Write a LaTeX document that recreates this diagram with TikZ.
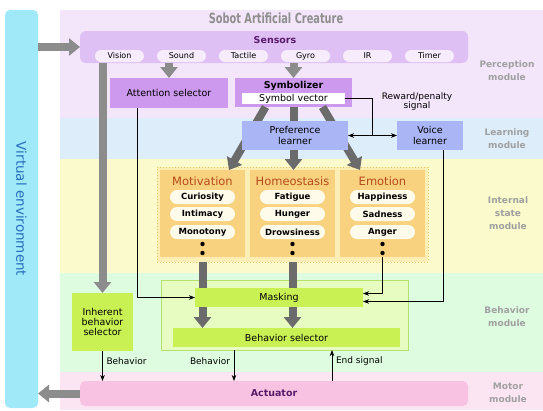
\documentclass[tikz,border=0pt]{standalone}
\usepackage{fontspec}
\setmainfont{DejaVu Sans}
\newfontfamily\narrowfont[FakeStretch=0.7]{DejaVu Sans}
\usetikzlibrary{calc,arrows.meta}
\tikzset {>=Stealth}

\definecolor{envcyan}{RGB}{160,233,249}
\definecolor{envblue}{RGB}{40,110,190}
\definecolor{percband}{RGB}{243,229,250}
\definecolor{learnband}{RGB}{221,237,250}
\definecolor{stateband}{RGB}{250,250,204}
\definecolor{behband}{RGB}{221,252,224}
\definecolor{motorband}{RGB}{252,229,242}
\definecolor{sensorlilac}{RGB}{223,192,245}
\definecolor{sensorpillc}{RGB}{246,236,252}
\definecolor{attpurple}{RGB}{204,153,238}
\definecolor{learnblue}{RGB}{169,181,245}
\definecolor{stateorange}{RGB}{248,210,126}
\definecolor{framefill}{RGB}{252,238,180}
\definecolor{framegold}{RGB}{232,200,96}
\definecolor{pillwhite}{RGB}{255,251,235}
\definecolor{titlebrown}{RGB}{181,74,30}
\definecolor{behfill}{RGB}{230,252,192}
\definecolor{behedge}{RGB}{181,224,106}
\definecolor{masklime}{RGB}{201,241,84}
\definecolor{actpink}{RGB}{248,195,227}
\definecolor{headpurple}{RGB}{90,26,106}
\definecolor{arrowgray}{RGB}{140,140,140}
\definecolor{fangray}{RGB}{107,107,107}
\definecolor{modgray}{RGB}{160,160,160}
\definecolor{titlegray}{RGB}{143,143,143}

\newcommand{\boxfont}{\fontsize{9.5}{10.5}\selectfont}
\newcommand{\boldbox}{\fontsize{9.5}{10.5}\selectfont\bfseries}
\newcommand{\sensfont}{\fontsize{8}{9}\selectfont}
\newcommand{\pillfont}{\fontsize{8.5}{9}\selectfont\bfseries}
\newcommand{\statefont}{\fontsize{11.5}{12}\selectfont}
\newcommand{\modfont}{\fontsize{9}{13}\selectfont\bfseries}
\newcommand{\lblfont}{\fontsize{9}{9}\selectfont}
\newcommand{\bigtitle}{\narrowfont\fontsize{14}{16}\selectfont\bfseries}

\tikzset{
  every node/.style={inner sep=0pt, outer sep=0pt},
  sz/.style 2 args={minimum width=#1pt, minimum height=#2pt},
  purplebox/.style={fill=attpurple, font=\boxfont, align=center},
  bluebox/.style={fill=learnblue, font=\boxfont, align=center},
  limebox/.style={fill=masklime, font=\boxfont, align=center},
  sensorpill/.style={fill=sensorpillc, rounded corners=6pt, font=\sensfont, sz={49}{12}},
  pill/.style={fill=pillwhite, rounded corners=7pt, font=\pillfont, sz={65}{14}},
  statebox/.style={fill=stateorange, sz={85}{87}},
  statetitle/.style={font=\statefont, text=titlebrown},
  modlabel/.style={font=\modfont, text=modgray, align=center},
  lbl/.style={font=\lblfont},
  fatarrow/.style={draw=arrowgray, line width=8pt, -{Triangle[width=17pt,length=11pt]}},
  fatbar/.style={draw=fangray, line width=8pt},
  wire/.style={line width=0.7pt}
}

\begin{document}
\begin{tikzpicture}[x=1pt,y=-1pt]
\useasboundingbox (0,0) rectangle (543,410);
% module bands
\fill[percband] (60,10) rectangle (543,118);
\fill[learnband] (60,118) rectangle (543,159);
\fill[stateband] (60,159) rectangle (543,273);
\fill[behband] (60,273) rectangle (543,372);
\fill[motorband] (60,372) rectangle (543,410);
\node[fill=envcyan, rounded corners=5pt, sz={33}{398}] (virtenv) at (21.5,209) {};
\node[rotate=-90, font=\fontsize{13.5}{14}\selectfont, text=envblue] (envtext) at (virtenv.center) {Virtual environment};
\node[font=\bigtitle, text=titlegray] (title) at (276,18) {Sobot Artificial Creature};

% perception
\node[fill=sensorlilac, rounded corners=6pt, sz={388}{32}] (sensors) at (274,47) {};
\node[font=\boldbox, text=headpurple] (sensorstitle) at (275,40) {Sensors};
\node[sensorpill] (vision) at (119.5,56) {Vision};
\node[sensorpill] (sound) at (181.5,56) {Sound};
\node[sensorpill] (tactile) at (243.5,56) {Tactile};
\node[sensorpill] (gyro) at (305.5,56) {Gyro};
\node[sensorpill] (ir) at (367.5,56) {IR};
\node[sensorpill] (timer) at (429.5,56) {Timer};
\node[purplebox, sz={118}{30}] (attsel) at (169,93) {Attention selector};
\node[purplebox, sz={117}{29}] (symbolizer) at (293.5,92.5) {};
\node[font=\boldbox] (symtitle) at ($(symbolizer.north)+(0,8)$) {Symbolizer};
\node[fill=white, font=\boxfont, sz={103}{11}] (symvec) at (293.5,98.5) {Symbol vector};

% internal state
\node[draw=framegold, dotted, line width=1pt, fill=framefill, sz={271}{95}] (stateframe) at (292.5,214.5) {};
\node[statebox] (motivation) at (202.5,213.5) {};
\node[statebox] (homeo) at (292.5,213.5) {};
\node[statebox] (emotion) at (382.5,213.5) {};
\node[statetitle] (mottitle) at (202.5,181) {Motivation};
\node[statetitle] (homeotitle) at (292.5,181) {Homeostasis};
\node[statetitle] (emotitle) at (382.5,181) {Emotion};
\node[pill] (curiosity) at (202.5,197) {Curiosity};
\node[pill] (intimacy) at (202.5,214) {Intimacy};
\node[pill] (monotony) at (202.5,232) {Monotony};
\node[pill] (fatigue) at (292.5,197) {Fatigue};
\node[pill] (hunger) at (292.5,214) {Hunger};
\node[pill] (drowsiness) at (292.5,232) {Drowsiness};
\node[pill] (happiness) at (382.5,197) {Happiness};
\node[pill] (sadness) at (382.5,214) {Sadness};
\node[pill] (anger) at (382.5,232) {Anger};
\fill ($(motivation.south)+(0,-13)$) circle (2.2pt) ($(motivation.south)+(0,-4)$) circle (2.2pt);
\fill ($(homeo.south)+(0,-13)$) circle (2.2pt) ($(homeo.south)+(0,-4)$) circle (2.2pt);
\fill ($(emotion.south)+(0,-13)$) circle (2.2pt) ($(emotion.south)+(0,-4)$) circle (2.2pt);

% symbol vector into the internal states, behind the learner
\draw[fatarrow, draw=fangray] ($(symbolizer.south)+(-28,0)$) -- ($(motivation.north east)+(-16,0)$);
\draw[fatarrow, draw=fangray] (symbolizer.south) -- (symbolizer.south |- homeo.north);
\draw[fatarrow, draw=fangray] ($(symbolizer.south)+(29,0)$) -- ($(emotion.north west)+(20,0)$);

% learning
\node[bluebox, sz={106}{29}] (preflearn) at (295,135.5) {Preference\\learner};
\node[bluebox, sz={66}{29}] (voicelearn) at (430,135.5) {Voice\\learner};
\coordinate (junc) at ($(preflearn.east)!0.5!(voicelearn.west)$);
\draw[wire] (symvec.east) -| (junc);
\draw[wire,<->] (preflearn.east) -- (voicelearn.west);
\node[lbl, align=center] (reward) at (417,102) {Reward/penalty\\signal};

% behavior
\node[draw=behedge, line width=0.8pt, fill=behfill, sz={247}{70}] (behframe) at (284.5,315) {};
\node[limebox, sz={168}{19}] (masking) at (279,297.5) {Masking};
\node[limebox, sz={227}{19}] (behsel) at (286.5,337.5) {Behavior selector};
\node[limebox, sz={61}{58}, font=\fontsize{9.5}{10}\selectfont] (inherent) at (102.5,322) {Inherent\\behavior\\selector};
\node[fill=actpink, rounded corners=5pt, sz={388}{25}, font=\boldbox, text=headpurple] (actuator) at (274,393.5) {Actuator};

\draw[fatbar] (stateframe.south -| motivation.south) -- (masking.north -| motivation.south);
\draw[fatbar] (stateframe.south -| homeo.south) -- (masking.north -| homeo.south);
\draw[fatarrow, draw=fangray] (masking.south -| motivation.south) -- (behsel.north -| motivation.south);
\draw[fatarrow, draw=fangray] (masking.south -| homeo.south) -- (behsel.north -| homeo.south);
\draw[wire,->] ($(attsel.south)+(-32,0)$) |- (masking.west);
\draw[wire,->] (emotion.south) |- ($(masking.east)+(0,-4)$);
\draw[wire,->] ($(voicelearn.south)+(13,0)$) |- ($(masking.east)+(0,4)$);

% sensor flows
\draw[fatarrow] (attsel.north |- sensors.south) -- (attsel.north);
\draw[fatarrow] (symbolizer.north |- sensors.south) -- (symbolizer.north);
\draw[fatarrow] (sensors.south -| inherent.north) -- (inherent.north);
\draw[fatarrow] (virtenv.east |- sensors.west) -- (sensors.west);
\draw[fatarrow] (actuator.west) -- (virtenv.east |- actuator.west);

% motor
\coordinate (behout) at ($(behframe.south west)+(73,0)$);
\coordinate (endin) at ($(behframe.south west)+(171,0)$);
\draw[wire,->] (inherent.south) -- (inherent.south |- actuator.north) node[lbl,pos=0.35,right=4pt] {Behavior};
\draw[wire,->] (behout) -- (behout |- actuator.north) node[lbl,pos=0.35,left=4pt] {Behavior};
\draw[wire,->] (endin |- actuator.north) -- (endin) node[lbl,pos=0.65,right=4pt] {End signal};

% module names
\node[modlabel] (permod) at (507,70.5) {Perception\\module};
\node[modlabel] (learnmod) at (507,138.5) {Learning\\module};
\node[modlabel] (statemod) at (508,213) {Internal\\state\\module};
\node[modlabel] (behmod) at (507,316.5) {Behavior\\module};
\node[modlabel] (motormod) at (508,393) {Motor\\module};
\end{tikzpicture}
\end{document}
